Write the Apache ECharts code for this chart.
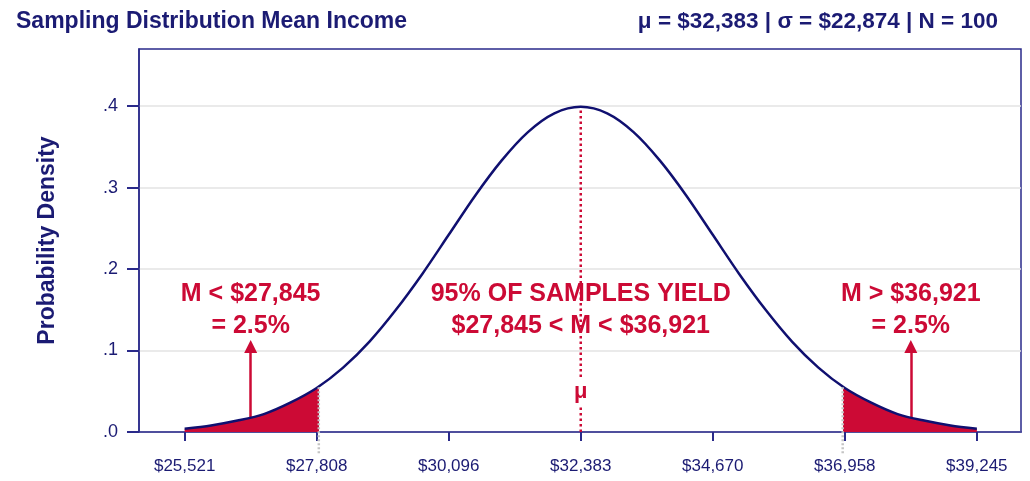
<!DOCTYPE html>
<html>
<head>
<meta charset="utf-8">
<script src="https://cdn.jsdelivr.net/npm/echarts@6/dist/echarts.min.js"></script>
<style>
  html, body { margin: 0; padding: 0; background: #ffffff; }
  #chart { width: 1030px; height: 481px; }
</style>
</head>
<body>
<div id="chart"></div>
<script>
// Sampling distribution of mean income, samples of N = 100
const MEAN = 32383;
const SD = 22874;
const N = 100;
const SE = SD / Math.sqrt(N);

// Positions along the curve in standard errors from the mean, and the density at each
const zSteps = [-3.0, -2.8, -2.6, -2.4, -2.2, -2.0, -1.8, -1.6, -1.4, -1.2, -1.0,
                -0.8, -0.6, -0.4, -0.2, 0.0, 0.2, 0.4, 0.6, 0.8, 1.0,
                1.2, 1.4, 1.6, 1.8, 2.0, 2.2, 2.4, 2.6, 2.8, 3.0];
const density = [0.004, 0.008, 0.014, 0.022, 0.036, 0.054, 0.079, 0.111, 0.150, 0.194, 0.242,
                 0.290, 0.333, 0.368, 0.391, 0.399, 0.391, 0.368, 0.333, 0.290, 0.242,
                 0.194, 0.150, 0.111, 0.079, 0.054, 0.036, 0.022, 0.014, 0.008, 0.004];

// Axis ticks
const incomeTicks = [25521, 27808, 30096, 32383, 34670, 36958, 39245];
const densityTicks = [0, 0.1, 0.2, 0.3, 0.4];

// 95% interval bounds for the sample mean
const lowerCut = 27845;
const upperCut = 36921;
const cutDensity = 0.055;

// Tail arrows: position (in standard errors), start and end density
const arrowZ = [-2.5, 2.5];
const arrowStart = 0.018;
const arrowEnd = 0.105;

const NAVY = '#1b1b73';
const FRAME = '#2a2a8a';
const RED = '#cc0a35';
const FONT = '"Liberation Sans", Arial, Helvetica, sans-serif';

const money = v => '$' + Math.round(v).toLocaleString('en-US');
const toIncome = z => MEAN + z * SE;

const curve = zSteps.map((z, i) => [toIncome(z), density[i]]);
const peak = density[zSteps.indexOf(0)];

const tailText = [
  'M < ' + money(lowerCut) + '\n= 2.5%',
  'M > ' + money(upperCut) + '\n= 2.5%'
];
const centerText = '95% OF SAMPLES YIELD\n' + money(lowerCut) + ' < M < ' + money(upperCut);
const textDensity = 0.149;

const redLabel = {
  show: true,
  position: 'inside',
  color: RED,
  opacity: 1,
  textBorderWidth: 0,
  fontFamily: FONT,
  fontWeight: 'bold',
  fontSize: 25,
  lineHeight: 32,
  align: 'center',
  verticalAlign: 'middle'
};

const chart = echarts.init(document.getElementById('chart'), null, { renderer: 'canvas' });

const cutLineSeries = [lowerCut, upperCut].map(c => ({
  type: 'line',
  data: [[c, -0.026], [c, cutDensity]],
  symbol: 'none',
  clip: false,
  silent: true,
  z: 6,
  lineStyle: { color: '#c4c4c4', width: 2.5, type: [2, 2] }
}));

chart.setOption({
  animation: false,
  backgroundColor: '#ffffff',
  title: [
    {
      text: 'Sampling Distribution Mean Income',
      left: 11, top: 5,
      textStyle: { color: NAVY, fontFamily: FONT, fontWeight: 'bold', fontSize: 23 }
    },
    {
      text: 'μ = ' + money(MEAN) + ' | σ = ' + money(SD) + ' | N = ' + N,
      right: 27, top: 5,
      textStyle: { color: NAVY, fontFamily: FONT, fontWeight: 'bold', fontSize: 22.5 }
    }
  ],
  grid: {
    left: 139, right: 9, top: 49, bottom: 49,
    show: true, borderColor: FRAME, borderWidth: 1.5, backgroundColor: 'transparent'
  },
  xAxis: {
    type: 'value',
    min: 24730,
    max: 40010,
    axisLine: { show: true, lineStyle: { color: FRAME, width: 1.5 } },
    axisTick: { show: true, customValues: incomeTicks, length: 9, lineStyle: { color: FRAME, width: 2 } },
    axisLabel: {
      customValues: incomeTicks,
      formatter: v => money(v),
      color: NAVY, fontFamily: FONT, fontSize: 17, margin: 26
    },
    splitLine: { show: false }
  },
  yAxis: {
    type: 'value',
    min: 0,
    max: 0.47,
    interval: 0.1,
    name: 'Probability Density',
    nameLocation: 'middle',
    nameRotate: 90,
    nameGap: 80,
    nameTextStyle: { color: NAVY, fontFamily: FONT, fontWeight: 'bold', fontSize: 23 },
    axisLine: { show: true, lineStyle: { color: FRAME, width: 1.5 } },
    axisTick: { show: true, customValues: densityTicks, length: 12, lineStyle: { color: FRAME, width: 2 } },
    axisLabel: {
      customValues: densityTicks,
      formatter: v => v.toFixed(1).replace(/^0/, ''),
      color: NAVY, fontFamily: FONT, fontSize: 18, margin: 21
    },
    splitLine: { show: true, lineStyle: { color: '#e3e3e3', width: 1.5 } }
  },
  visualMap: {
    type: 'piecewise',
    show: false,
    dimension: 0,
    seriesIndex: 0,
    pieces: [
      { lte: lowerCut, color: RED },
      { gte: upperCut, color: RED }
    ],
    outOfRange: { color: 'rgba(255,255,255,0)' }
  },
  series: [
    {
      // density curve, tails filled beyond the interval bounds
      type: 'line',
      data: curve,
      symbol: 'none',
      smooth: 0.3,
      z: 5,
      lineStyle: { color: '#101070', width: 2.5 },
      areaStyle: { opacity: 1 }
    },
    ...cutLineSeries,
    {
      // mean marker
      type: 'line',
      data: [[MEAN, 0], [MEAN, peak]],
      symbol: 'none',
      silent: true,
      z: 3,
      lineStyle: { color: RED, width: 2.5, type: [2.5, 3] }
    },
    {
      type: 'scatter',
      data: [[MEAN, 0.049]],
      symbolSize: 0,
      silent: true,
      z: 6,
      itemStyle: { opacity: 1 },
      label: {
        show: true, position: 'inside', formatter: 'μ',
        color: RED, opacity: 1, textBorderWidth: 0, fontFamily: FONT, fontWeight: 'bold', fontSize: 22,
        backgroundColor: '#ffffff', padding: [3, 2, 3, 2]
      }
    },
    {
      // arrows pointing at each tail
      type: 'scatter',
      data: [],
      silent: true,
      z: 6,
      markLine: {
        silent: true,
        symbol: ['none', 'triangle'],
        symbolSize: [13, 13],
        label: { show: false },
        lineStyle: { color: RED, width: 2.5, type: 'solid', opacity: 1 },
        itemStyle: { color: RED, opacity: 1 },
        data: arrowZ.map(z => [
          { coord: [toIncome(z), arrowStart] },
          { coord: [toIncome(z), arrowEnd] }
        ])
      }
    },
    {
      // interval annotations
      type: 'scatter',
      symbolSize: 0,
      silent: true,
      z: 7,
      itemStyle: { opacity: 1 },
      data: [
        { value: [toIncome(arrowZ[0]), textDensity], label: Object.assign({}, redLabel, { formatter: tailText[0] }) },
        { value: [MEAN, textDensity], label: Object.assign({}, redLabel, { formatter: centerText }) },
        { value: [toIncome(arrowZ[1]), textDensity], label: Object.assign({}, redLabel, { formatter: tailText[1] }) }
      ]
    }
  ]
});
</script>
</body>
</html>
